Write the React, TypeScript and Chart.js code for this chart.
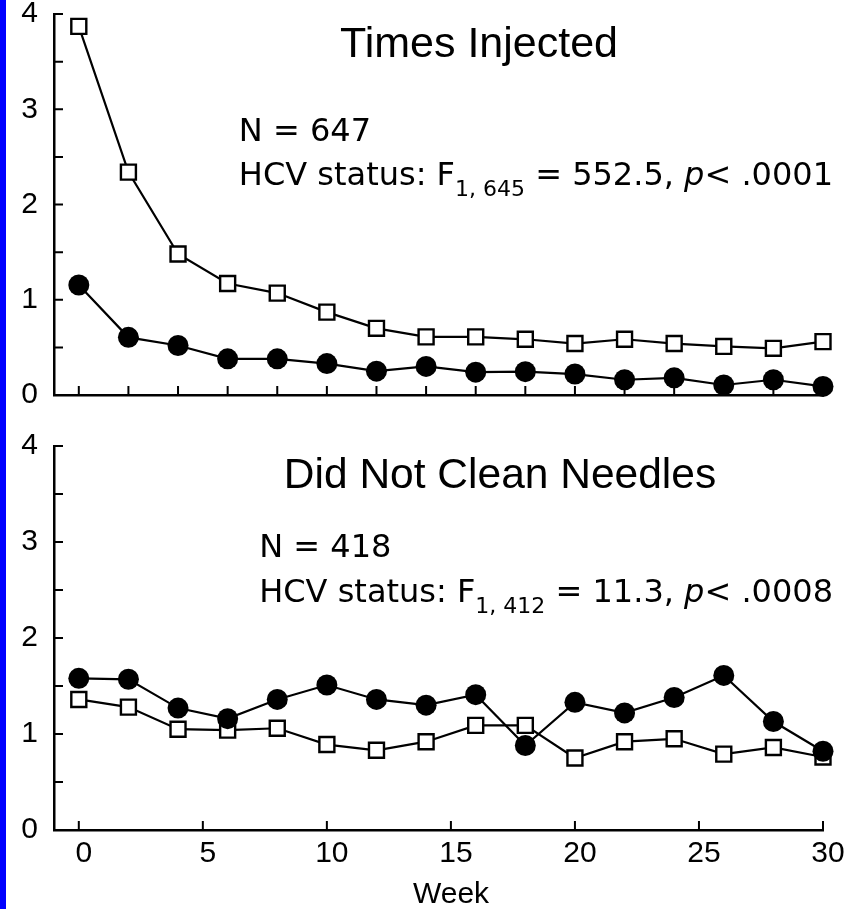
import React, { useEffect, useRef } from 'react';
import { Chart, registerables } from 'chart.js';

Chart.register(...registerables);

// ---------- data ----------
const weeks = [0, 2, 4, 6, 8, 10, 12, 14, 16, 18, 20, 22, 24, 26, 28, 30];

// Times Injected
const injectedFilled = [1.155, 0.605, 0.52, 0.38, 0.38, 0.33, 0.25, 0.3, 0.24, 0.245, 0.22, 0.16, 0.18, 0.105, 0.16, 0.09];
const injectedOpen = [3.87, 2.34, 1.48, 1.17, 1.07, 0.87, 0.7, 0.61, 0.61, 0.585, 0.54, 0.585, 0.54, 0.51, 0.49, 0.56];

// Did Not Clean Needles
const uncleanFilled = [1.58, 1.57, 1.27, 1.16, 1.36, 1.51, 1.36, 1.3, 1.41, 0.88, 1.33, 1.22, 1.38, 1.61, 1.13, 0.82];
const uncleanOpen = [1.36, 1.28, 1.05, 1.04, 1.06, 0.89, 0.83, 0.92, 1.09, 1.09, 0.75, 0.92, 0.95, 0.79, 0.86, 0.76];

// ticks
const yMinorTicks = [0, 0.5, 1, 1.5, 2, 2.5, 3, 3.5, 4];
const yLabelTicks = [0, 1, 2, 3, 4];
const topXTicks = [0, 2, 4, 6, 8, 10, 12, 14, 16, 18, 20, 22, 24, 26, 28, 30];
const bottomXTicks = [0, 5, 10, 15, 20, 25, 30];

// texts
const topTitle = 'Times Injected';
const topN = 'N = 647';
const topStat = { pre: 'HCV status: F', sub: '1, 645', mid: ' = 552.5, ', p: 'p', post: '< .0001' };
const bottomTitle = 'Did Not Clean Needles';
const bottomN = 'N = 418';
const bottomStat = { pre: 'HCV status: F', sub: '1, 412', mid: ' = 11.3, ', p: 'p', post: '< .0008' };
const xAxisTitle = 'Week';

// ---------- style ----------
const SANS = '"Liberation Sans", Arial, sans-serif';
const ANN = '"DejaVu Sans", Verdana, sans-serif';

const innerTicksPlugin = {
  id: 'innerTicks',
  beforeDatasetsDraw(chart: any, _args: any, opts: any) {
    const { ctx, chartArea } = chart;
    const xs = chart.scales.x;
    const ys = chart.scales.y;
    const len = opts.len || 9;
    ctx.save();
    ctx.strokeStyle = '#000';
    ctx.lineWidth = 2;
    ctx.beginPath();
    (opts.y || []).forEach((v: number) => {
      const py = ys.getPixelForValue(v);
      ctx.moveTo(chartArea.left, py);
      ctx.lineTo(chartArea.left + len, py);
    });
    (opts.x || []).forEach((v: number) => {
      const px = xs.getPixelForValue(v);
      ctx.moveTo(px, chartArea.bottom);
      ctx.lineTo(px, chartArea.bottom - len);
    });
    ctx.stroke();
    ctx.restore();
  },
};

const textPlugin = {
  id: 'panelText',
  afterDraw(chart: any, _args: any, opts: any) {
    const { ctx } = chart;
    ctx.save();
    ctx.fillStyle = '#000';
    ctx.textBaseline = 'alphabetic';
    // title
    ctx.font = `${opts.titleSize}px ${SANS}`;
    ctx.textAlign = 'center';
    ctx.fillText(opts.title, opts.titleX, opts.titleY);
    // x-axis title
    if (opts.axisTitle) {
      ctx.font = `30px ${SANS}`;
      ctx.fillText(opts.axisTitle, opts.axisTitleX, opts.axisTitleY);
    }
    // stat line, right aligned
    ctx.textAlign = 'left';
    const main = `32px ${ANN}`;
    const subF = `22px ${ANN}`;
    const ital = `italic 32px ${ANN}`;
    const s = opts.stat;
    const parts = [
      { t: s.pre, f: main, dy: 0 },
      { t: s.sub, f: subF, dy: 11 },
      { t: s.mid, f: main, dy: 0 },
      { t: s.p, f: ital, dy: 0 },
      { t: s.post, f: main, dy: 0 },
    ];
    let total = 0;
    parts.forEach((p) => {
      ctx.font = p.f;
      total += ctx.measureText(p.t).width;
    });
    const startX = opts.rightX - total;
    let x = startX;
    parts.forEach((p) => {
      ctx.font = p.f;
      ctx.fillText(p.t, x, opts.statY + p.dy);
      x += ctx.measureText(p.t).width;
    });
    ctx.font = main;
    ctx.fillText(opts.n, startX, opts.nY);
    ctx.restore();
  },
};

function makeConfig(
  filled: number[],
  open: number[],
  xTicks: number[],
  showXLabels: boolean,
  padTop: number,
  xAxisHeight: number,
  text: any
): any {
  return {
    type: 'line',
    data: {
      labels: weeks,
      datasets: [
        {
          data: weeks.map((w, i) => ({ x: w, y: filled[i] })),
          borderColor: '#000',
          borderWidth: 2.2,
          backgroundColor: '#000',
          pointStyle: 'circle',
          pointRadius: 10.5,
          pointBorderWidth: 0,
          pointBackgroundColor: '#000',
          clip: false,
          order: 0,
        },
        {
          data: weeks.map((w, i) => ({ x: w, y: open[i] })),
          borderColor: '#000',
          borderWidth: 2.2,
          backgroundColor: '#fff',
          pointStyle: 'rect',
          pointRadius: 10.6,
          pointBorderWidth: 2.4,
          pointBorderColor: '#000',
          pointBackgroundColor: '#fff',
          clip: false,
          order: 1,
        },
      ],
    },
    options: {
      animation: false,
      responsive: false,
      maintainAspectRatio: false,
      devicePixelRatio: 1,
      layout: { padding: { top: padTop, right: 33, left: 0, bottom: 0 } },
      plugins: {
        legend: { display: false },
        tooltip: { enabled: false },
        innerTicks: { x: xTicks, y: yMinorTicks, len: 9 },
        panelText: text,
      },
      scales: {
        x: {
          type: 'linear',
          min: -1,
          max: 30,
          grid: { display: false, drawTicks: false },
          border: { display: true, color: '#000', width: 2.5 },
          afterBuildTicks: (s: any) => {
            s.ticks = bottomXTicks.map((v) => ({ value: v }));
          },
          afterFit: (s: any) => {
            s.height = xAxisHeight;
            s.paddingLeft = 0;
            s.paddingRight = 0;
          },
          ticks: {
            display: showXLabels,
            color: '#000',
            font: { family: SANS, size: 30 },
            padding: 6,
            labelOffset: 5,
            maxRotation: 0,
            autoSkip: false,
          },
        },
        y: {
          type: 'linear',
          min: 0,
          max: 4,
          grid: { display: false, drawTicks: false },
          border: { display: true, color: '#000', width: 2.5 },
          afterBuildTicks: (s: any) => {
            s.ticks = yLabelTicks.map((v) => ({ value: v }));
          },
          afterFit: (s: any) => {
            s.width = 54;
            s.paddingTop = 0;
            s.paddingBottom = 0;
          },
          ticks: {
            color: '#000',
            font: { family: SANS, size: 30 },
            padding: 16,
          },
        },
      },
    },
    plugins: [innerTicksPlugin, textPlugin],
  };
}

function Panel(props: { config: any; width: number; height: number; top: number }) {
  const ref = useRef<HTMLCanvasElement | null>(null);
  useEffect(() => {
    if (!ref.current) return;
    const chart = new Chart(ref.current, props.config);
    return () => chart.destroy();
  }, []);
  return (
    <canvas
      ref={ref}
      width={props.width}
      height={props.height}
      style={{ position: 'absolute', left: 0, top: props.top, width: props.width, height: props.height }}
    />
  );
}

export default function App() {
  const topCfg = makeConfig(injectedFilled, injectedOpen, topXTicks, false, 14, 25, {
    title: topTitle,
    titleSize: 43,
    titleX: 479,
    titleY: 57,
    n: topN,
    stat: topStat,
    rightX: 833,
    nY: 141,
    statY: 185,
  });
  const bottomCfg = makeConfig(uncleanFilled, uncleanOpen, bottomXTicks, true, 26, 79, {
    title: bottomTitle,
    titleSize: 42.5,
    titleX: 500,
    titleY: 68,
    axisTitle: xAxisTitle,
    axisTitleX: 451,
    axisTitleY: 483,
    n: bottomN,
    stat: bottomStat,
    rightX: 833,
    nY: 137,
    statY: 182,
  });
  return (
    <div style={{ position: 'absolute', left: 0, top: 0, width: 856, height: 909, background: '#fff', overflow: 'hidden' }}>
      <div style={{ position: 'absolute', left: 0, top: 0, width: 6, height: 909, background: '#0000ff' }} />
      <Panel config={topCfg} width={856} height={420} top={0} />
      <Panel config={bottomCfg} width={856} height={489} top={420} />
    </div>
  );
}
